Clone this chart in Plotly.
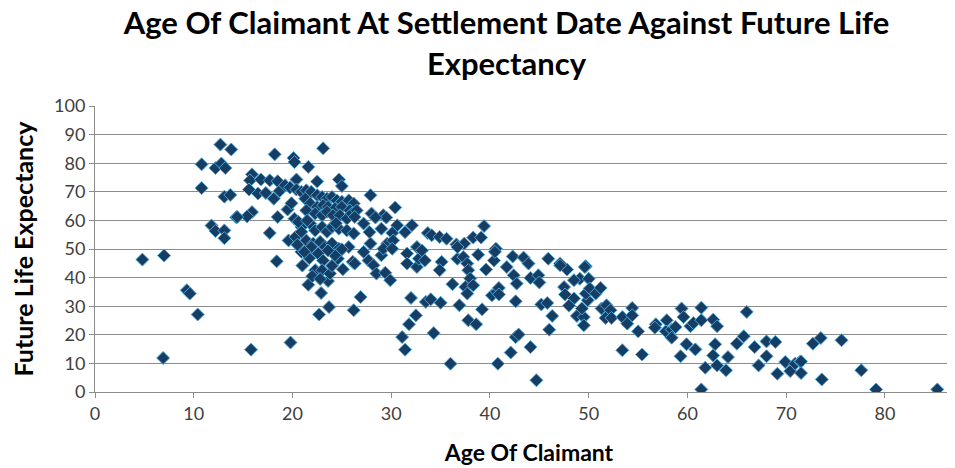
import plotly.graph_objects as go

# Edad del reclamante (x) y expectativa de vida futura (y)
age = [
    4.8, 7.0, 9.3, 9.6, 10.4, 6.9,
    12.7, 13.8, 10.8, 12.2, 12.8, 13.2, 10.8, 13.1, 13.7, 14.3, 11.8, 12.2, 13.1, 13.1,
    18.2, 23.1, 20.1, 20.2, 21.6, 15.9, 15.7, 16.8, 17.7, 18.5, 20.4, 22.5, 24.7, 25.0,
    15.6, 16.5, 17.3, 18.1, 18.7, 19.5, 15.9, 15.4, 14.4, 18.5, 20.2, 17.7,
    19.25, 19.75, 20.4, 20.9, 21.4, 21.9, 22.5, 23.0, 23.5, 24.0, 24.5, 25.0, 25.7, 26.2,
    21.3, 21.8, 22.5, 23.1, 23.6, 24.3, 25.0, 25.8,
    21.4, 22.3, 23.0, 23.5, 24.1, 24.8, 25.5, 26.0,
    20.9, 21.8, 22.3, 23.0, 23.5, 24.0, 24.7, 25.5, 26.2,
    19.6, 20.3, 20.9, 21.4, 22.1, 22.8, 23.3, 24.0, 24.7, 25.7,
    18.4, 20.9, 21.6, 22.9, 23.7, 22.7, 23.6, 19.8, 15.8,
    21.9, 22.6, 23.1, 22.3, 23.0, 23.8, 24.0, 24.6, 25.0, 25.1, 24.3, 23.6, 26.1, 26.2,
    27.9, 30.4, 28.0, 29.2, 29.5, 28.4, 26.5, 26.3, 27.2, 29.0, 30.6, 32.1, 31.4, 30.1,
    27.8, 27.9, 29.6, 30.2, 33.7, 34.1, 34.9, 35.6, 36.6, 37.4, 38.3, 39.1, 39.4, 32.6, 40.6,
    27.2, 26.3, 27.7, 28.2, 28.5, 29.4, 29.9, 29.0, 29.2, 30.1, 31.6, 31.6, 32.6, 32.8,
    33.4, 33.1, 35.1, 34.9, 36.7, 37.3, 37.7, 37.8, 38.0, 37.5, 38.3, 37.7, 38.8, 39.6,
    40.4, 40.5, 36.2, 36.7, 26.9, 32.0, 33.5, 34.0, 35.0, 32.5, 31.8, 31.1, 31.4, 34.3,
    36.9, 39.2, 37.8, 38.6, 36.0, 40.8, 40.2, 40.7,
    42.3, 43.4, 43.9, 41.7, 45.9, 47.1, 47.8, 49.7,
    42.4, 42.7, 44.1, 44.9, 45.0, 40.9, 40.9, 42.6, 45.2, 45.8, 46.3, 46.0, 42.6, 42.9,
    44.1, 42.1, 44.7, 47.1, 49.6, 49.1, 50.0, 48.5, 47.5, 47.6, 48.5, 48.0, 48.8, 49.5,
    49.5, 49.3, 49.9, 49.7, 50.1, 50.7, 51.2, 51.3, 51.8, 52.2, 51.7, 52.3, 53.4, 53.9,
    54.4, 54.4, 55.0, 53.4, 55.4,
    56.8, 56.7, 57.9, 57.8, 58.4, 58.8, 58.4, 59.4, 59.6, 60.3, 60.6, 61.4, 61.4, 62.6,
    63.0, 59.9, 60.8, 59.3, 61.8, 61.4, 62.8, 62.6, 63.0, 63.9, 64.1, 65.0, 65.7, 66.0,
    66.8, 67.2, 68.0, 68.0, 68.9, 69.1, 69.9, 70.4, 70.9, 71.4,
    71.5, 71.5, 72.7, 73.5, 75.6, 73.6, 77.6, 79.1, 85.3, 87.0,
    20.5, 21.0, 21.7, 22.0, 20.6, 21.2, 19.9, 22.8, 21.5, 24.4,
]
life_expectancy = [
    46.3, 47.7, 35.6, 34.4, 27.1, 11.9,
    86.5, 84.8, 79.6, 78.3, 79.9, 78.3, 71.3, 68.3, 68.9, 61.1, 58.2, 56.3, 56.5, 53.8,
    83.1, 85.2, 81.8, 80.4, 78.7, 76.1, 74.0, 74.3, 74.0, 73.7, 74.3, 73.6, 74.3, 72.0,
    70.8, 69.4, 69.6, 67.6, 70.3, 63.8, 62.9, 61.4, 61.2, 61.2, 60.6, 55.6,
    72.3, 71.5, 70.8, 70.0, 70.5, 70.0, 68.8, 68.2, 67.6, 68.2, 67.0, 66.5, 67.0, 65.9,
    67.6, 65.9, 64.7, 65.3, 64.7, 64.1, 64.7, 63.5,
    63.5, 62.4, 61.8, 63.0, 61.8, 61.8, 60.6, 62.4,
    57.7, 58.9, 56.5, 57.7, 56.0, 57.7, 57.1, 56.5, 55.4,
    53.0, 54.2, 56.0, 53.0, 51.9, 52.5, 50.7, 51.9, 50.1, 50.7,
    45.7, 49.0, 37.5, 34.6, 29.7, 27.1, 38.8, 17.3, 14.8,
    50.7, 48.4, 46.0, 42.6, 42.6, 41.4, 44.1, 46.6, 49.9, 42.9, 47.8, 49.5, 45.5, 28.6,
    68.8, 64.5, 62.4, 61.8, 61.0, 61.0, 63.5, 61.2, 58.9, 57.1, 58.3, 58.3, 55.9, 55.6,
    55.9, 51.9, 51.9, 53.0, 55.6, 54.8, 54.2, 53.6, 51.6, 51.9, 54.0, 54.0, 58.0, 50.7, 50.1,
    49.0, 44.9, 46.0, 44.3, 41.4, 41.7, 39.1, 47.8, 50.1, 50.1, 48.4, 44.9, 43.7, 46.6,
    46.0, 49.5, 45.5, 42.6, 46.6, 47.2, 44.9, 42.6, 39.7, 36.7, 37.3, 34.4, 48.0, 42.8,
    46.0, 49.0, 37.7, 50.7, 33.2, 32.9, 31.5, 32.4, 31.2, 26.8, 23.7, 19.2, 14.8, 20.6,
    30.3, 28.9, 25.1, 23.7, 9.9, 9.9, 33.8, 35.0,
    47.4, 47.0, 44.9, 43.7, 46.6, 44.9, 42.8, 44.0,
    40.8, 37.9, 39.9, 40.8, 38.3, 36.4, 34.1, 31.7, 30.6, 31.1, 26.6, 21.8, 19.2, 20.1,
    15.7, 13.8, 4.1, 44.3, 43.7, 39.6, 39.6, 39.1, 36.7, 34.1, 32.7, 30.2, 26.6, 26.2,
    23.3, 29.2, 32.1, 34.4, 36.2, 34.4, 36.4, 29.2, 30.3, 28.6, 25.9, 25.9, 26.2, 23.9,
    29.4, 26.8, 21.2, 14.6, 13.1,
    23.7, 22.5, 25.1, 21.2, 21.8, 22.7, 19.0, 29.2, 26.2, 23.0, 24.1, 29.5, 25.1, 25.3,
    23.0, 16.7, 14.9, 12.5, 8.5, 0.9, 16.7, 12.8, 9.3, 7.6, 12.2, 16.9, 19.5, 28.0,
    15.7, 9.3, 17.7, 12.5, 17.5, 6.4, 10.5, 7.3, 9.9, 10.7,
    10.7, 6.6, 16.9, 18.9, 18.1, 4.4, 7.6, 0.9, 0.9, 4.1,
    51.5, 44.2, 46.8, 40.5, 59.5, 49.0, 66.0, 39.5, 60.0, 59.0,
]

x_ticks = [0, 10, 20, 30, 40, 50, 60, 70, 80]
y_ticks = [0, 10, 20, 30, 40, 50, 60, 70, 80, 90, 100]

fig = go.Figure()

fig.add_trace(
    go.Scatter(
        x=age,
        y=life_expectancy,
        mode='markers',
        marker=dict(
            symbol='diamond',
            size=10,
            color='#163D63',
            line=dict(color='#4FA6D6', width=1)
        ),
        showlegend=False
    )
)

gris = '#8C8C8C'
fuente = 'Lato, Open Sans, sans-serif'

# la página tiene 8px de margen en el body: se compensa en los márgenes
fig.update_layout(
    width=955,
    height=468,
    paper_bgcolor='white',
    plot_bgcolor='white',
    margin=dict(l=87, r=0, t=98, b=84),
    font=dict(family=fuente, color='#404040'),
    title=dict(
        text='<b>Age Of Claimant At Settlement Date Against Future Life<br>Expectancy</b>',
        x=0.522, xanchor='center',
        y=0.944, yanchor='top',
        font=dict(size=31, color='black', family=fuente)
    ),
    xaxis=dict(
        range=[0, 87.9],
        tickvals=x_ticks,
        ticks='outside', ticklen=5, tickcolor=gris,
        showline=True, linecolor=gris, linewidth=1,
        showgrid=False, zeroline=False,
        tickfont=dict(size=18, color='#404040'),
        title=dict(text='<b>Age Of Claimant</b>', font=dict(size=23, color='black'), standoff=22),
    ),
    yaxis=dict(
        range=[0, 100],
        tickvals=y_ticks,
        ticks='outside', ticklen=5, tickcolor=gris,
        showline=True, linecolor=gris, linewidth=1,
        showgrid=True, gridcolor=gris, gridwidth=1,
        zeroline=False,
        tickfont=dict(size=18, color='#404040'),
        title=dict(text='<b>Future Life Expectancy</b>', font=dict(size=25, color='black'), standoff=15),
    ),
)

fig.write_html("out.html")
